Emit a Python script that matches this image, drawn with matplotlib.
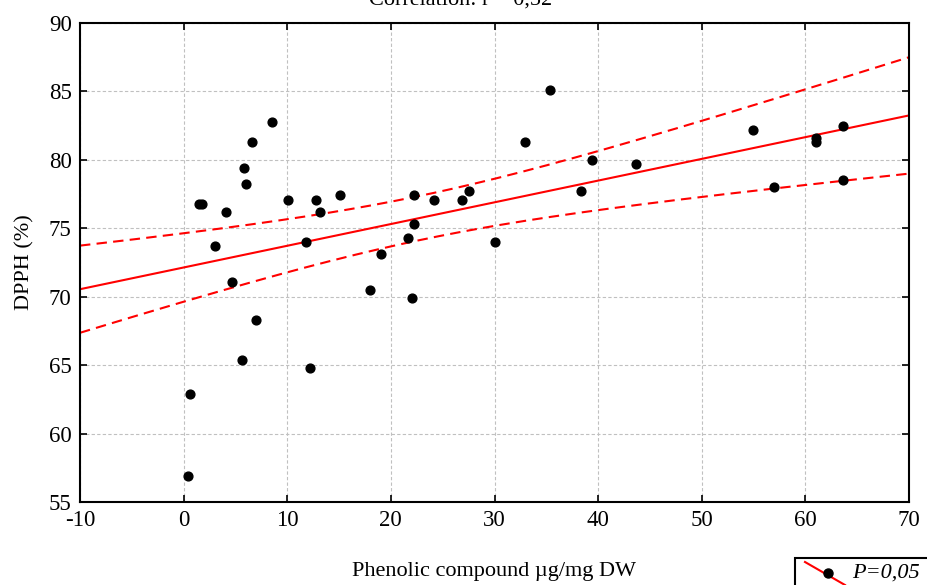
import numpy as np
import matplotlib.pyplot as plt
from matplotlib.lines import Line2D
from matplotlib.patches import Rectangle

plt.rcParams['font.family'] = ['Liberation Serif', 'DejaVu Serif']
plt.rcParams['axes.unicode_minus'] = False

# Phenolic compound (ug/mg DW) vs DPPH (%)
phenolic = [0.4, 0.6, 1.5, 1.8, 3.0, 4.1, 4.7, 5.6, 5.8, 6.0, 6.6, 7.0, 8.5,
            10.1, 11.8, 12.2, 12.8, 13.2, 15.1, 18.0, 19.0, 21.7, 22.0, 22.2,
            22.2, 24.2, 26.9, 27.5, 30.0, 32.9, 35.4, 38.3, 39.4, 43.7, 54.9,
            57.0, 61.0, 61.0, 63.6, 63.6]
dpph = [56.9, 62.9, 76.8, 76.8, 73.7, 76.2, 71.1, 65.4, 79.4, 78.2, 81.3, 68.3,
        82.8, 77.1, 74.0, 64.8, 77.1, 76.2, 77.4, 70.5, 73.1, 74.3, 69.9, 75.3,
        77.4, 77.1, 77.1, 77.7, 74.0, 81.3, 85.1, 77.7, 80.0, 79.7, 82.2, 78.0,
        81.6, 81.3, 82.5, 78.5]
r_text = '0,52'

x = np.array(phenolic)
y = np.array(dpph)
n = len(x)
slope, icpt = np.polyfit(x, y, 1)
resid = y - (icpt + slope * x)
s = np.sqrt(np.sum(resid ** 2) / (n - 2))
t95 = 2.024  # t(0.975, 38)
xs = np.linspace(-10, 70, 200)
fit = icpt + slope * xs
half = t95 * s * np.sqrt(1 / n + (xs - x.mean()) ** 2 / np.sum((x - x.mean()) ** 2))

fig = plt.figure(figsize=(9.27, 5.85), dpi=100)
ax = fig.add_axes([80 / 927, 1 - 502 / 585, 829 / 927, 479 / 585])

ax.plot(xs, fit, color='red', lw=1.5)
ax.plot(xs, fit + half, color='red', lw=1.5, ls=(0, (5, 3)))
ax.plot(xs, fit - half, color='red', lw=1.5, ls=(0, (5, 3)))
ax.scatter(x, y, s=40, color='black', zorder=3)

ax.set_xlim(-10, 70)
ax.set_ylim(55, 90)
ax.set_xticks(np.arange(-10, 71, 10))
ax.set_yticks(np.arange(55, 91, 5))
ax.grid(True, color='#c0c0c0', ls=(0, (3, 2)), lw=0.8)
ax.tick_params(direction='in', top=True, right=True, length=5, width=1.2,
               labelsize=16.5, pad=6)
for sp in ax.spines.values():
    sp.set_linewidth(1.5)

ax.set_xlabel('Phenolic compound µg/mg DW', fontsize=16, labelpad=22)
ax.set_ylabel('DPPH (%)', fontsize=16, labelpad=10)
fig.text(0.497, 1.0, 'Correlation: r = ' + r_text, ha='center', va='center',
         fontsize=16)

# legend box (partly off the figure)
fig.patches.append(Rectangle((795 / 927, -0.05), 0.2, 0.097, transform=fig.transFigure,
                             fill=False, ec='black', lw=1.5))
fig.lines.append(Line2D([805 / 927, 845 / 927], [1 - 562 / 585, 1 - 585 / 585],
                        transform=fig.transFigure, color='red', lw=1.5))
fig.lines.append(Line2D([828 / 927], [1 - 573 / 585], transform=fig.transFigure,
                        marker='o', ms=6.5, color='black'))
fig.text(852 / 927, 1 - 573 / 585, 'P=0,05', fontsize=16, style='italic',
         va='center')

fig.savefig('out.png', dpi=100)
